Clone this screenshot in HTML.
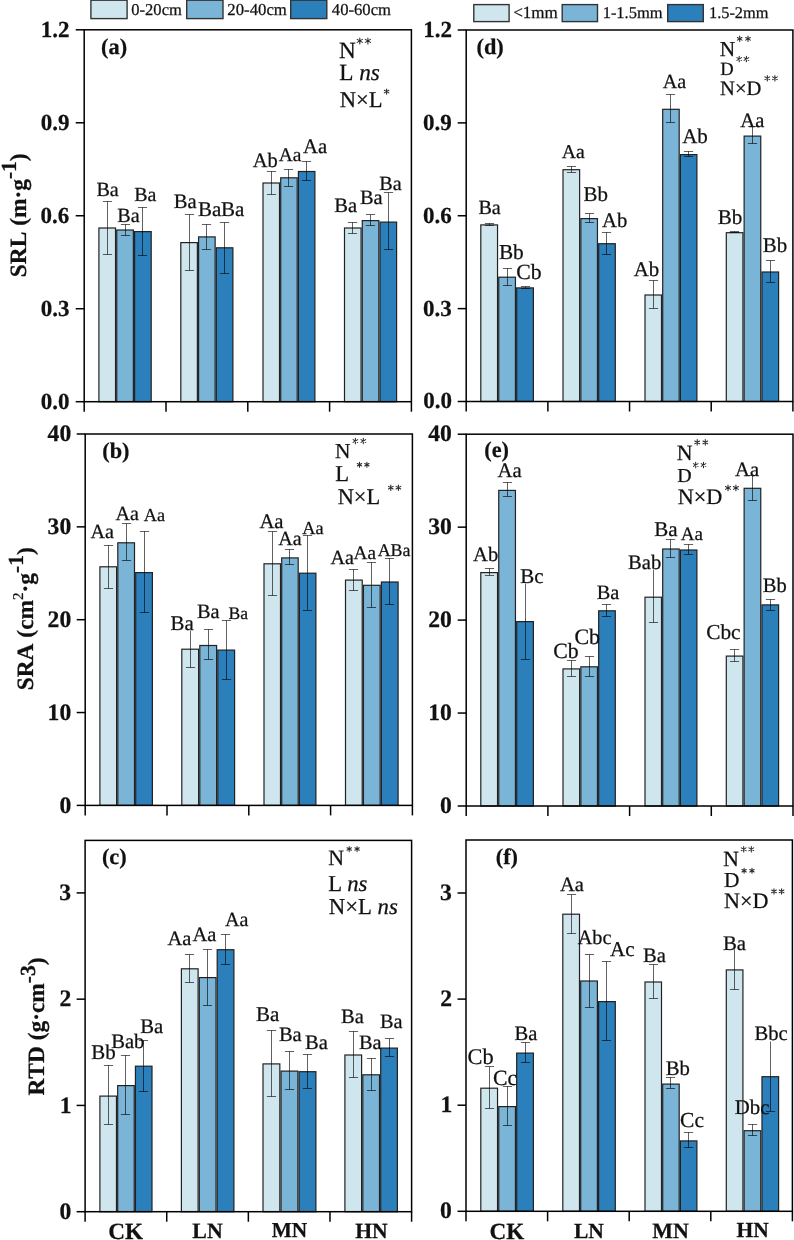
<!DOCTYPE html>
<html><head><meta charset="utf-8"><style>
html,body{margin:0;padding:0;background:#fff;width:794px;height:1240px;overflow:hidden;font-family:"Liberation Serif",serif}
svg text{font-kerning:none;fill:#111;stroke:#111;stroke-width:0.25px;text-rendering:geometricPrecision}
svg{will-change:transform}
</style></head><body>
<svg width="794" height="1240" viewBox="0 0 794 1240" font-family="Liberation Serif, serif" style="position:absolute;left:0;top:0">
<rect width="794" height="1240" fill="#fff"/>
<rect x="98.90" y="228.00" width="16.63" height="173.70" fill="#cfe6ee" stroke="#222222" stroke-width="1.2"/>
<rect x="116.73" y="230.00" width="16.63" height="171.70" fill="#7ab4d6" stroke="#222222" stroke-width="1.2"/>
<rect x="134.57" y="231.60" width="16.63" height="170.10" fill="#2b7fba" stroke="#222222" stroke-width="1.2"/>
<rect x="180.80" y="242.60" width="16.57" height="159.10" fill="#cfe6ee" stroke="#222222" stroke-width="1.2"/>
<rect x="198.57" y="236.90" width="16.57" height="164.80" fill="#7ab4d6" stroke="#222222" stroke-width="1.2"/>
<rect x="216.33" y="247.80" width="16.57" height="153.90" fill="#2b7fba" stroke="#222222" stroke-width="1.2"/>
<rect x="263.00" y="183.00" width="16.50" height="218.70" fill="#cfe6ee" stroke="#222222" stroke-width="1.2"/>
<rect x="280.70" y="177.80" width="16.50" height="223.90" fill="#7ab4d6" stroke="#222222" stroke-width="1.2"/>
<rect x="298.40" y="171.50" width="16.50" height="230.20" fill="#2b7fba" stroke="#222222" stroke-width="1.2"/>
<rect x="344.50" y="228.00" width="16.57" height="173.70" fill="#cfe6ee" stroke="#222222" stroke-width="1.2"/>
<rect x="362.27" y="220.60" width="16.57" height="181.10" fill="#7ab4d6" stroke="#222222" stroke-width="1.2"/>
<rect x="380.03" y="222.10" width="16.57" height="179.60" fill="#2b7fba" stroke="#222222" stroke-width="1.2"/>
<path d="M107.50,201.50V254.50M102.90,201.50H112.10M102.90,254.50H112.10" stroke="#000" stroke-opacity="0.62" stroke-width="1" fill="none"/>
<path d="M125.50,224.50V235.50M120.90,224.50H130.10M120.90,235.50H130.10" stroke="#000" stroke-opacity="0.62" stroke-width="1" fill="none"/>
<path d="M142.50,207.50V255.50M137.90,207.50H147.10M137.90,255.50H147.10" stroke="#000" stroke-opacity="0.62" stroke-width="1" fill="none"/>
<path d="M189.50,214.50V270.50M184.90,214.50H194.10M184.90,270.50H194.10" stroke="#000" stroke-opacity="0.62" stroke-width="1" fill="none"/>
<path d="M206.50,224.50V249.50M201.90,224.50H211.10M201.90,249.50H211.10" stroke="#000" stroke-opacity="0.62" stroke-width="1" fill="none"/>
<path d="M224.50,222.50V273.50M219.90,222.50H229.10M219.90,273.50H229.10" stroke="#000" stroke-opacity="0.62" stroke-width="1" fill="none"/>
<path d="M271.50,171.50V194.50M266.90,171.50H276.10M266.90,194.50H276.10" stroke="#000" stroke-opacity="0.62" stroke-width="1" fill="none"/>
<path d="M288.50,169.50V186.50M283.90,169.50H293.10M283.90,186.50H293.10" stroke="#000" stroke-opacity="0.62" stroke-width="1" fill="none"/>
<path d="M306.50,161.50V180.50M301.90,161.50H311.10M301.90,180.50H311.10" stroke="#000" stroke-opacity="0.62" stroke-width="1" fill="none"/>
<path d="M352.50,222.50V233.50M347.90,222.50H357.10M347.90,233.50H357.10" stroke="#000" stroke-opacity="0.62" stroke-width="1" fill="none"/>
<path d="M370.50,214.50V225.50M365.90,214.50H375.10M365.90,225.50H375.10" stroke="#000" stroke-opacity="0.62" stroke-width="1" fill="none"/>
<path d="M388.50,192.50V249.50M383.90,192.50H393.10M383.90,249.50H393.10" stroke="#000" stroke-opacity="0.62" stroke-width="1" fill="none"/>
<rect x="84.20" y="29.80" width="327.20" height="371.90" fill="none" stroke="#000" stroke-width="1.5"/>
<line x1="75.70" y1="401.70" x2="84.20" y2="401.70" stroke="#000" stroke-width="1.5"/>
<line x1="75.70" y1="308.73" x2="84.20" y2="308.73" stroke="#000" stroke-width="1.5"/>
<line x1="75.70" y1="215.75" x2="84.20" y2="215.75" stroke="#000" stroke-width="1.5"/>
<line x1="75.70" y1="122.78" x2="84.20" y2="122.78" stroke="#000" stroke-width="1.5"/>
<line x1="75.70" y1="29.80" x2="84.20" y2="29.80" stroke="#000" stroke-width="1.5"/>
<line x1="84.20" y1="401.70" x2="84.20" y2="411.70" stroke="#000" stroke-width="1.5"/>
<line x1="166.00" y1="401.70" x2="166.00" y2="411.70" stroke="#000" stroke-width="1.5"/>
<line x1="247.80" y1="401.70" x2="247.80" y2="411.70" stroke="#000" stroke-width="1.5"/>
<line x1="329.60" y1="401.70" x2="329.60" y2="411.70" stroke="#000" stroke-width="1.5"/>
<line x1="411.40" y1="401.70" x2="411.40" y2="411.70" stroke="#000" stroke-width="1.5"/>
<text x="40.73" y="408.61" font-size="23" font-weight="bold">0.0</text>
<text x="40.64" y="315.64" font-size="23" font-weight="bold">0.3</text>
<text x="40.52" y="222.66" font-size="23" font-weight="bold">0.6</text>
<text x="40.68" y="129.69" font-size="23" font-weight="bold">0.9</text>
<text x="40.84" y="36.71" font-size="23" font-weight="bold">1.2</text>
<text x="96.42" y="196.40" font-size="20.12" font-weight="normal" font-style="normal" >Ba</text>
<text x="117.32" y="222.10" font-size="20.12" font-weight="normal" font-style="normal" >Ba</text>
<text x="134.23" y="201.20" font-size="19.94" font-weight="normal" font-style="normal" >Ba</text>
<text x="173.71" y="208.10" font-size="20.59" font-weight="normal" font-style="normal" >Ba</text>
<text x="198.00" y="215.90" font-size="20.97" font-weight="normal" font-style="normal" >Ba</text>
<text x="221.00" y="215.90" font-size="20.97" font-weight="normal" font-style="normal" >Ba</text>
<text x="252.80" y="166.60" font-size="20.52" font-weight="normal" font-style="normal" >Ab</text>
<text x="278.81" y="161.20" font-size="19.43" font-weight="normal" font-style="normal" >Aa</text>
<text x="303.10" y="153.40" font-size="20.66" font-weight="normal" font-style="normal" >Aa</text>
<text x="334.31" y="211.70" font-size="20.59" font-weight="normal" font-style="normal" >Ba</text>
<text x="360.01" y="204.40" font-size="20.41" font-weight="normal" font-style="normal" >Ba</text>
<text x="379.32" y="189.70" font-size="20.12" font-weight="normal" font-style="normal" >Ba</text>
<text x="101.10" y="54.28" font-size="22.3" font-weight="bold">(a)</text>
<rect x="99.90" y="566.80" width="16.70" height="238.60" fill="#cfe6ee" stroke="#222222" stroke-width="1.2"/>
<rect x="117.80" y="542.80" width="16.70" height="262.60" fill="#7ab4d6" stroke="#222222" stroke-width="1.2"/>
<rect x="135.70" y="572.60" width="16.70" height="232.80" fill="#2b7fba" stroke="#222222" stroke-width="1.2"/>
<rect x="181.80" y="649.20" width="16.80" height="156.20" fill="#cfe6ee" stroke="#222222" stroke-width="1.2"/>
<rect x="199.80" y="645.50" width="16.80" height="159.90" fill="#7ab4d6" stroke="#222222" stroke-width="1.2"/>
<rect x="217.80" y="650.10" width="16.80" height="155.30" fill="#2b7fba" stroke="#222222" stroke-width="1.2"/>
<rect x="264.00" y="563.80" width="16.50" height="241.60" fill="#cfe6ee" stroke="#222222" stroke-width="1.2"/>
<rect x="281.70" y="557.90" width="16.50" height="247.50" fill="#7ab4d6" stroke="#222222" stroke-width="1.2"/>
<rect x="299.40" y="573.20" width="16.50" height="232.20" fill="#2b7fba" stroke="#222222" stroke-width="1.2"/>
<rect x="345.50" y="580.10" width="16.73" height="225.30" fill="#cfe6ee" stroke="#222222" stroke-width="1.2"/>
<rect x="363.43" y="585.30" width="16.73" height="220.10" fill="#7ab4d6" stroke="#222222" stroke-width="1.2"/>
<rect x="381.37" y="582.00" width="16.73" height="223.40" fill="#2b7fba" stroke="#222222" stroke-width="1.2"/>
<path d="M108.50,545.50V588.50M103.90,545.50H113.10M103.90,588.50H113.10" stroke="#000" stroke-opacity="0.62" stroke-width="1" fill="none"/>
<path d="M126.50,523.50V560.50M121.90,523.50H131.10M121.90,560.50H131.10" stroke="#000" stroke-opacity="0.62" stroke-width="1" fill="none"/>
<path d="M144.50,531.50V612.50M139.90,531.50H149.10M139.90,612.50H149.10" stroke="#000" stroke-opacity="0.62" stroke-width="1" fill="none"/>
<path d="M190.50,630.50V667.50M185.90,667.50H195.10" stroke="#000" stroke-opacity="0.62" stroke-width="1" fill="none"/>
<path d="M208.50,629.50V659.50M203.90,629.50H213.10M203.90,659.50H213.10" stroke="#000" stroke-opacity="0.62" stroke-width="1" fill="none"/>
<path d="M226.50,620.50V679.50M221.90,620.50H231.10M221.90,679.50H231.10" stroke="#000" stroke-opacity="0.62" stroke-width="1" fill="none"/>
<path d="M272.50,531.50V595.50M267.90,531.50H277.10M267.90,595.50H277.10" stroke="#000" stroke-opacity="0.62" stroke-width="1" fill="none"/>
<path d="M289.50,549.50V564.50M284.90,549.50H294.10M284.90,564.50H294.10" stroke="#000" stroke-opacity="0.62" stroke-width="1" fill="none"/>
<path d="M307.50,535.50V610.50M302.90,535.50H312.10M302.90,610.50H312.10" stroke="#000" stroke-opacity="0.62" stroke-width="1" fill="none"/>
<path d="M353.50,569.50V590.50M348.90,569.50H358.10M348.90,590.50H358.10" stroke="#000" stroke-opacity="0.62" stroke-width="1" fill="none"/>
<path d="M371.50,562.50V607.50M366.90,562.50H376.10M366.90,607.50H376.10" stroke="#000" stroke-opacity="0.62" stroke-width="1" fill="none"/>
<path d="M389.50,558.50V604.50M384.90,558.50H394.10M384.90,604.50H394.10" stroke="#000" stroke-opacity="0.62" stroke-width="1" fill="none"/>
<rect x="85.20" y="434.00" width="327.20" height="371.40" fill="none" stroke="#000" stroke-width="1.5"/>
<line x1="76.70" y1="805.40" x2="85.20" y2="805.40" stroke="#000" stroke-width="1.5"/>
<line x1="76.70" y1="712.55" x2="85.20" y2="712.55" stroke="#000" stroke-width="1.5"/>
<line x1="76.70" y1="619.70" x2="85.20" y2="619.70" stroke="#000" stroke-width="1.5"/>
<line x1="76.70" y1="526.85" x2="85.20" y2="526.85" stroke="#000" stroke-width="1.5"/>
<line x1="76.70" y1="434.00" x2="85.20" y2="434.00" stroke="#000" stroke-width="1.5"/>
<line x1="85.20" y1="805.40" x2="85.20" y2="815.40" stroke="#000" stroke-width="1.5"/>
<line x1="167.00" y1="805.40" x2="167.00" y2="815.40" stroke="#000" stroke-width="1.5"/>
<line x1="248.80" y1="805.40" x2="248.80" y2="815.40" stroke="#000" stroke-width="1.5"/>
<line x1="330.60" y1="805.40" x2="330.60" y2="815.40" stroke="#000" stroke-width="1.5"/>
<line x1="412.40" y1="805.40" x2="412.40" y2="815.40" stroke="#000" stroke-width="1.5"/>
<text x="59.40" y="812.51" font-size="23.6" font-weight="bold">0</text>
<text x="47.60" y="719.66" font-size="23.6" font-weight="bold">10</text>
<text x="47.60" y="626.81" font-size="23.6" font-weight="bold">20</text>
<text x="47.60" y="533.96" font-size="23.6" font-weight="bold">30</text>
<text x="47.60" y="441.11" font-size="23.6" font-weight="bold">40</text>
<text x="90.50" y="537.90" font-size="20.13" font-weight="normal" font-style="normal" >Aa</text>
<text x="115.60" y="519.70" font-size="20.13" font-weight="normal" font-style="normal" >Aa</text>
<text x="143.82" y="521.40" font-size="18.29" font-weight="normal" font-style="normal" >Aa</text>
<text x="170.50" y="630.40" font-size="20.87" font-weight="normal" font-style="normal" >Ba</text>
<text x="196.91" y="617.80" font-size="20.31" font-weight="normal" font-style="normal" >Ba</text>
<text x="228.49" y="618.80" font-size="17.60" font-weight="normal" font-style="normal" >Ba</text>
<text x="259.40" y="527.60" font-size="20.74" font-weight="normal" font-style="normal" >Aa</text>
<text x="278.30" y="545.40" font-size="20.04" font-weight="normal" font-style="normal" >Aa</text>
<text x="302.32" y="534.30" font-size="18.29" font-weight="normal" font-style="normal" >Aa</text>
<text x="330.50" y="563.60" font-size="20.13" font-weight="normal" font-style="normal" >Aa</text>
<text x="353.51" y="559.00" font-size="19.25" font-weight="normal" font-style="normal" >Aa</text>
<text x="377.63" y="555.90" font-size="17.90" font-weight="normal" font-style="normal" >ABa</text>
<text x="102.27" y="458.28" font-size="22.3" font-weight="bold">(b)</text>
<rect x="99.90" y="1096.10" width="16.57" height="115.60" fill="#cfe6ee" stroke="#222222" stroke-width="1.2"/>
<rect x="117.67" y="1085.60" width="16.57" height="126.10" fill="#7ab4d6" stroke="#222222" stroke-width="1.2"/>
<rect x="135.43" y="1066.20" width="16.57" height="145.50" fill="#2b7fba" stroke="#222222" stroke-width="1.2"/>
<rect x="181.40" y="968.80" width="16.70" height="242.90" fill="#cfe6ee" stroke="#222222" stroke-width="1.2"/>
<rect x="199.30" y="977.60" width="16.70" height="234.10" fill="#7ab4d6" stroke="#222222" stroke-width="1.2"/>
<rect x="217.20" y="949.70" width="16.70" height="262.00" fill="#2b7fba" stroke="#222222" stroke-width="1.2"/>
<rect x="263.00" y="1063.90" width="16.83" height="147.80" fill="#cfe6ee" stroke="#222222" stroke-width="1.2"/>
<rect x="281.03" y="1071.10" width="16.83" height="140.60" fill="#7ab4d6" stroke="#222222" stroke-width="1.2"/>
<rect x="299.07" y="1071.70" width="16.83" height="140.00" fill="#2b7fba" stroke="#222222" stroke-width="1.2"/>
<rect x="344.90" y="1055.00" width="16.70" height="156.70" fill="#cfe6ee" stroke="#222222" stroke-width="1.2"/>
<rect x="362.80" y="1074.80" width="16.70" height="136.90" fill="#7ab4d6" stroke="#222222" stroke-width="1.2"/>
<rect x="380.70" y="1048.10" width="16.70" height="163.60" fill="#2b7fba" stroke="#222222" stroke-width="1.2"/>
<path d="M108.50,1065.50V1124.50M103.90,1065.50H113.10M103.90,1124.50H113.10" stroke="#000" stroke-opacity="0.62" stroke-width="1" fill="none"/>
<path d="M125.50,1055.50V1114.50M120.90,1055.50H130.10M120.90,1114.50H130.10" stroke="#000" stroke-opacity="0.62" stroke-width="1" fill="none"/>
<path d="M143.50,1040.50V1091.50M138.90,1040.50H148.10M138.90,1091.50H148.10" stroke="#000" stroke-opacity="0.62" stroke-width="1" fill="none"/>
<path d="M189.50,954.50V982.50M184.90,954.50H194.10M184.90,982.50H194.10" stroke="#000" stroke-opacity="0.62" stroke-width="1" fill="none"/>
<path d="M207.50,949.50V1005.50M202.90,949.50H212.10M202.90,1005.50H212.10" stroke="#000" stroke-opacity="0.62" stroke-width="1" fill="none"/>
<path d="M225.50,934.50V964.50M220.90,934.50H230.10M220.90,964.50H230.10" stroke="#000" stroke-opacity="0.62" stroke-width="1" fill="none"/>
<path d="M271.50,1030.50V1096.50M266.90,1030.50H276.10M266.90,1096.50H276.10" stroke="#000" stroke-opacity="0.62" stroke-width="1" fill="none"/>
<path d="M289.50,1051.50V1089.50M284.90,1051.50H294.10M284.90,1089.50H294.10" stroke="#000" stroke-opacity="0.62" stroke-width="1" fill="none"/>
<path d="M307.50,1054.50V1088.50M302.90,1054.50H312.10M302.90,1088.50H312.10" stroke="#000" stroke-opacity="0.62" stroke-width="1" fill="none"/>
<path d="M353.50,1031.50V1077.50M348.90,1031.50H358.10M348.90,1077.50H358.10" stroke="#000" stroke-opacity="0.62" stroke-width="1" fill="none"/>
<path d="M371.50,1058.50V1090.50M366.90,1058.50H376.10M366.90,1090.50H376.10" stroke="#000" stroke-opacity="0.62" stroke-width="1" fill="none"/>
<path d="M389.50,1038.50V1056.50M384.90,1038.50H394.10M384.90,1056.50H394.10" stroke="#000" stroke-opacity="0.62" stroke-width="1" fill="none"/>
<rect x="85.10" y="840.40" width="326.50" height="371.30" fill="none" stroke="#000" stroke-width="1.5"/>
<line x1="76.60" y1="1211.70" x2="85.10" y2="1211.70" stroke="#000" stroke-width="1.5"/>
<line x1="76.60" y1="1105.43" x2="85.10" y2="1105.43" stroke="#000" stroke-width="1.5"/>
<line x1="76.60" y1="999.17" x2="85.10" y2="999.17" stroke="#000" stroke-width="1.5"/>
<line x1="76.60" y1="892.90" x2="85.10" y2="892.90" stroke="#000" stroke-width="1.5"/>
<line x1="85.10" y1="1211.70" x2="85.10" y2="1221.70" stroke="#000" stroke-width="1.5"/>
<line x1="166.72" y1="1211.70" x2="166.72" y2="1221.70" stroke="#000" stroke-width="1.5"/>
<line x1="248.35" y1="1211.70" x2="248.35" y2="1221.70" stroke="#000" stroke-width="1.5"/>
<line x1="329.98" y1="1211.70" x2="329.98" y2="1221.70" stroke="#000" stroke-width="1.5"/>
<line x1="411.60" y1="1211.70" x2="411.60" y2="1221.70" stroke="#000" stroke-width="1.5"/>
<text x="59.40" y="1218.81" font-size="23.6" font-weight="bold">0</text>
<text x="59.72" y="1112.54" font-size="23.6" font-weight="bold">1</text>
<text x="59.51" y="1006.28" font-size="23.6" font-weight="bold">2</text>
<text x="59.31" y="900.01" font-size="23.6" font-weight="bold">3</text>
<text x="91.30" y="1059.30" font-size="20.91" font-weight="normal" font-style="normal" >Bb</text>
<text x="111.21" y="1047.80" font-size="20.60" font-weight="normal" font-style="normal" >Bab</text>
<text x="140.30" y="1032.80" font-size="20.69" font-weight="normal" font-style="normal" >Ba</text>
<text x="167.40" y="945.20" font-size="20.48" font-weight="normal" font-style="normal" >Aa</text>
<text x="192.50" y="940.80" font-size="20.48" font-weight="normal" font-style="normal" >Aa</text>
<text x="224.90" y="925.70" font-size="20.13" font-weight="normal" font-style="normal" >Aa</text>
<text x="255.90" y="1020.90" font-size="20.97" font-weight="normal" font-style="normal" >Ba</text>
<text x="278.91" y="1040.80" font-size="20.50" font-weight="normal" font-style="normal" >Ba</text>
<text x="305.01" y="1049.10" font-size="20.59" font-weight="normal" font-style="normal" >Ba</text>
<text x="341.01" y="1022.60" font-size="20.50" font-weight="normal" font-style="normal" >Ba</text>
<text x="359.01" y="1048.50" font-size="20.31" font-weight="normal" font-style="normal" >Ba</text>
<text x="379.91" y="1028.20" font-size="20.31" font-weight="normal" font-style="normal" >Ba</text>
<text x="101.88" y="864.28" font-size="22.3" font-weight="bold">(c)</text>
<rect x="480.80" y="224.90" width="16.73" height="176.60" fill="#cfe6ee" stroke="#222222" stroke-width="1.2"/>
<rect x="498.73" y="277.20" width="16.73" height="124.30" fill="#7ab4d6" stroke="#222222" stroke-width="1.2"/>
<rect x="516.67" y="287.90" width="16.73" height="113.60" fill="#2b7fba" stroke="#222222" stroke-width="1.2"/>
<rect x="563.00" y="169.70" width="16.63" height="231.80" fill="#cfe6ee" stroke="#222222" stroke-width="1.2"/>
<rect x="580.83" y="218.60" width="16.63" height="182.90" fill="#7ab4d6" stroke="#222222" stroke-width="1.2"/>
<rect x="598.67" y="243.70" width="16.63" height="157.80" fill="#2b7fba" stroke="#222222" stroke-width="1.2"/>
<rect x="645.00" y="295.00" width="16.50" height="106.50" fill="#cfe6ee" stroke="#222222" stroke-width="1.2"/>
<rect x="662.70" y="109.30" width="16.50" height="292.20" fill="#7ab4d6" stroke="#222222" stroke-width="1.2"/>
<rect x="680.40" y="154.60" width="16.50" height="246.90" fill="#2b7fba" stroke="#222222" stroke-width="1.2"/>
<rect x="726.30" y="232.70" width="16.63" height="168.80" fill="#cfe6ee" stroke="#222222" stroke-width="1.2"/>
<rect x="744.13" y="136.10" width="16.63" height="265.40" fill="#7ab4d6" stroke="#222222" stroke-width="1.2"/>
<rect x="761.97" y="272.00" width="16.63" height="129.50" fill="#2b7fba" stroke="#222222" stroke-width="1.2"/>
<path d="M489.50,223.50V225.50M484.90,223.50H494.10M484.90,225.50H494.10" stroke="#000" stroke-opacity="0.62" stroke-width="1" fill="none"/>
<path d="M507.50,268.50V285.50M502.90,268.50H512.10M502.90,285.50H512.10" stroke="#000" stroke-opacity="0.62" stroke-width="1" fill="none"/>
<path d="M525.50,286.50V288.50M520.90,286.50H530.10M520.90,288.50H530.10" stroke="#000" stroke-opacity="0.62" stroke-width="1" fill="none"/>
<path d="M571.50,166.50V172.50M566.90,166.50H576.10M566.90,172.50H576.10" stroke="#000" stroke-opacity="0.62" stroke-width="1" fill="none"/>
<path d="M589.50,213.50V222.50M584.90,213.50H594.10M584.90,222.50H594.10" stroke="#000" stroke-opacity="0.62" stroke-width="1" fill="none"/>
<path d="M606.50,232.50V254.50M601.90,232.50H611.10M601.90,254.50H611.10" stroke="#000" stroke-opacity="0.62" stroke-width="1" fill="none"/>
<path d="M653.50,280.50V308.50M648.90,280.50H658.10M648.90,308.50H658.10" stroke="#000" stroke-opacity="0.62" stroke-width="1" fill="none"/>
<path d="M670.50,94.50V122.50M665.90,94.50H675.10M665.90,122.50H675.10" stroke="#000" stroke-opacity="0.62" stroke-width="1" fill="none"/>
<path d="M688.50,151.50V156.50M683.90,151.50H693.10M683.90,156.50H693.10" stroke="#000" stroke-opacity="0.62" stroke-width="1" fill="none"/>
<path d="M734.50,231.50V232.50M729.90,231.50H739.10M729.90,232.50H739.10" stroke="#000" stroke-opacity="0.62" stroke-width="1" fill="none"/>
<path d="M752.50,126.50V143.50M747.90,126.50H757.10M747.90,143.50H757.10" stroke="#000" stroke-opacity="0.62" stroke-width="1" fill="none"/>
<path d="M770.50,260.50V282.50M765.90,260.50H775.10M765.90,282.50H775.10" stroke="#000" stroke-opacity="0.62" stroke-width="1" fill="none"/>
<rect x="466.20" y="30.00" width="326.70" height="371.50" fill="none" stroke="#000" stroke-width="1.5"/>
<line x1="457.70" y1="401.50" x2="466.20" y2="401.50" stroke="#000" stroke-width="1.5"/>
<line x1="457.70" y1="308.62" x2="466.20" y2="308.62" stroke="#000" stroke-width="1.5"/>
<line x1="457.70" y1="215.75" x2="466.20" y2="215.75" stroke="#000" stroke-width="1.5"/>
<line x1="457.70" y1="122.88" x2="466.20" y2="122.88" stroke="#000" stroke-width="1.5"/>
<line x1="457.70" y1="30.00" x2="466.20" y2="30.00" stroke="#000" stroke-width="1.5"/>
<line x1="466.20" y1="401.50" x2="466.20" y2="411.50" stroke="#000" stroke-width="1.5"/>
<line x1="547.88" y1="401.50" x2="547.88" y2="411.50" stroke="#000" stroke-width="1.5"/>
<line x1="629.55" y1="401.50" x2="629.55" y2="411.50" stroke="#000" stroke-width="1.5"/>
<line x1="711.22" y1="401.50" x2="711.22" y2="411.50" stroke="#000" stroke-width="1.5"/>
<line x1="792.90" y1="401.50" x2="792.90" y2="411.50" stroke="#000" stroke-width="1.5"/>
<text x="423.13" y="408.41" font-size="23" font-weight="bold">0.0</text>
<text x="423.04" y="315.54" font-size="23" font-weight="bold">0.3</text>
<text x="422.92" y="222.66" font-size="23" font-weight="bold">0.6</text>
<text x="423.08" y="129.79" font-size="23" font-weight="bold">0.9</text>
<text x="423.24" y="36.91" font-size="23" font-weight="bold">1.2</text>
<text x="478.42" y="213.50" font-size="20.12" font-weight="normal" font-style="normal" >Ba</text>
<text x="498.89" y="259.00" font-size="21.27" font-weight="normal" font-style="normal" >Bb</text>
<text x="516.31" y="278.70" font-size="21.69" font-weight="normal" font-style="normal" >Cb</text>
<text x="561.81" y="157.80" font-size="19.69" font-weight="normal" font-style="normal" >Aa</text>
<text x="583.50" y="200.50" font-size="20.91" font-weight="normal" font-style="normal" >Bb</text>
<text x="602.10" y="227.00" font-size="20.69" font-weight="normal" font-style="normal" >Ab</text>
<text x="633.70" y="275.60" font-size="20.86" font-weight="normal" font-style="normal" >Ab</text>
<text x="662.70" y="88.20" font-size="20.13" font-weight="normal" font-style="normal" >Aa</text>
<text x="682.19" y="142.90" font-size="21.03" font-weight="normal" font-style="normal" >Ab</text>
<text x="717.79" y="223.80" font-size="21.09" font-weight="normal" font-style="normal" >Bb</text>
<text x="740.30" y="126.60" font-size="20.57" font-weight="normal" font-style="normal" >Aa</text>
<text x="762.70" y="252.00" font-size="20.91" font-weight="normal" font-style="normal" >Bb</text>
<text x="476.52" y="54.28" font-size="22.3" font-weight="bold">(d)</text>
<rect x="480.80" y="572.60" width="16.73" height="233.40" fill="#cfe6ee" stroke="#222222" stroke-width="1.2"/>
<rect x="498.73" y="490.40" width="16.73" height="315.60" fill="#7ab4d6" stroke="#222222" stroke-width="1.2"/>
<rect x="516.67" y="621.60" width="16.73" height="184.40" fill="#2b7fba" stroke="#222222" stroke-width="1.2"/>
<rect x="563.00" y="668.90" width="16.63" height="137.10" fill="#cfe6ee" stroke="#222222" stroke-width="1.2"/>
<rect x="580.83" y="666.80" width="16.63" height="139.20" fill="#7ab4d6" stroke="#222222" stroke-width="1.2"/>
<rect x="598.67" y="610.80" width="16.63" height="195.20" fill="#2b7fba" stroke="#222222" stroke-width="1.2"/>
<rect x="645.00" y="597.20" width="16.50" height="208.80" fill="#cfe6ee" stroke="#222222" stroke-width="1.2"/>
<rect x="662.70" y="549.00" width="16.50" height="257.00" fill="#7ab4d6" stroke="#222222" stroke-width="1.2"/>
<rect x="680.40" y="550.00" width="16.50" height="256.00" fill="#2b7fba" stroke="#222222" stroke-width="1.2"/>
<rect x="726.30" y="656.10" width="16.63" height="149.90" fill="#cfe6ee" stroke="#222222" stroke-width="1.2"/>
<rect x="744.13" y="488.30" width="16.63" height="317.70" fill="#7ab4d6" stroke="#222222" stroke-width="1.2"/>
<rect x="761.97" y="604.90" width="16.63" height="201.10" fill="#2b7fba" stroke="#222222" stroke-width="1.2"/>
<path d="M489.50,568.50V575.50M484.90,568.50H494.10M484.90,575.50H494.10" stroke="#000" stroke-opacity="0.62" stroke-width="1" fill="none"/>
<path d="M507.50,482.50V496.50M502.90,482.50H512.10M502.90,496.50H512.10" stroke="#000" stroke-opacity="0.62" stroke-width="1" fill="none"/>
<path d="M525.50,583.50V659.50M520.90,659.50H530.10" stroke="#000" stroke-opacity="0.62" stroke-width="1" fill="none"/>
<path d="M571.50,660.50V676.50M566.90,660.50H576.10M566.90,676.50H576.10" stroke="#000" stroke-opacity="0.62" stroke-width="1" fill="none"/>
<path d="M589.50,656.50V676.50M584.90,656.50H594.10M584.90,676.50H594.10" stroke="#000" stroke-opacity="0.62" stroke-width="1" fill="none"/>
<path d="M606.50,604.50V616.50M601.90,604.50H611.10M601.90,616.50H611.10" stroke="#000" stroke-opacity="0.62" stroke-width="1" fill="none"/>
<path d="M653.50,569.50V622.50M648.90,622.50H658.10" stroke="#000" stroke-opacity="0.62" stroke-width="1" fill="none"/>
<path d="M670.50,539.50V557.50M665.90,539.50H675.10M665.90,557.50H675.10" stroke="#000" stroke-opacity="0.62" stroke-width="1" fill="none"/>
<path d="M688.50,544.50V554.50M683.90,544.50H693.10M683.90,554.50H693.10" stroke="#000" stroke-opacity="0.62" stroke-width="1" fill="none"/>
<path d="M734.50,649.50V661.50M729.90,649.50H739.10M729.90,661.50H739.10" stroke="#000" stroke-opacity="0.62" stroke-width="1" fill="none"/>
<path d="M752.50,475.50V500.50M747.90,475.50H757.10M747.90,500.50H757.10" stroke="#000" stroke-opacity="0.62" stroke-width="1" fill="none"/>
<path d="M770.50,599.50V610.50M765.90,599.50H775.10M765.90,610.50H775.10" stroke="#000" stroke-opacity="0.62" stroke-width="1" fill="none"/>
<rect x="466.20" y="434.20" width="326.80" height="371.80" fill="none" stroke="#000" stroke-width="1.5"/>
<line x1="457.70" y1="806.00" x2="466.20" y2="806.00" stroke="#000" stroke-width="1.5"/>
<line x1="457.70" y1="713.05" x2="466.20" y2="713.05" stroke="#000" stroke-width="1.5"/>
<line x1="457.70" y1="620.10" x2="466.20" y2="620.10" stroke="#000" stroke-width="1.5"/>
<line x1="457.70" y1="527.15" x2="466.20" y2="527.15" stroke="#000" stroke-width="1.5"/>
<line x1="457.70" y1="434.20" x2="466.20" y2="434.20" stroke="#000" stroke-width="1.5"/>
<line x1="466.20" y1="806.00" x2="466.20" y2="816.00" stroke="#000" stroke-width="1.5"/>
<line x1="547.90" y1="806.00" x2="547.90" y2="816.00" stroke="#000" stroke-width="1.5"/>
<line x1="629.60" y1="806.00" x2="629.60" y2="816.00" stroke="#000" stroke-width="1.5"/>
<line x1="711.30" y1="806.00" x2="711.30" y2="816.00" stroke="#000" stroke-width="1.5"/>
<line x1="793.00" y1="806.00" x2="793.00" y2="816.00" stroke="#000" stroke-width="1.5"/>
<text x="440.10" y="813.11" font-size="23.6" font-weight="bold">0</text>
<text x="428.30" y="720.16" font-size="23.6" font-weight="bold">10</text>
<text x="428.30" y="627.21" font-size="23.6" font-weight="bold">20</text>
<text x="428.30" y="534.26" font-size="23.6" font-weight="bold">30</text>
<text x="428.30" y="441.31" font-size="23.6" font-weight="bold">40</text>
<text x="473.10" y="561.10" font-size="20.52" font-weight="normal" font-style="normal" >Ab</text>
<text x="497.60" y="476.90" font-size="20.66" font-weight="normal" font-style="normal" >Aa</text>
<text x="520.19" y="582.60" font-size="21.02" font-weight="normal" font-style="normal" >Bc</text>
<text x="553.31" y="657.80" font-size="21.79" font-weight="normal" font-style="normal" >Cb</text>
<text x="574.40" y="644.00" font-size="21.97" font-weight="normal" font-style="normal" >Cb</text>
<text x="596.71" y="599.30" font-size="20.31" font-weight="normal" font-style="normal" >Ba</text>
<text x="628.11" y="568.90" font-size="20.60" font-weight="normal" font-style="normal" >Bab</text>
<text x="654.20" y="536.40" font-size="20.97" font-weight="normal" font-style="normal" >Ba</text>
<text x="680.71" y="539.60" font-size="19.08" font-weight="normal" font-style="normal" >Aa</text>
<text x="706.23" y="639.00" font-size="21.31" font-weight="normal" font-style="normal" >Cbc</text>
<text x="735.10" y="475.80" font-size="20.48" font-weight="normal" font-style="normal" >Aa</text>
<text x="762.71" y="592.40" font-size="20.54" font-weight="normal" font-style="normal" >Bb</text>
<text x="484.23" y="457.48" font-size="22.3" font-weight="bold">(e)</text>
<rect x="480.80" y="1088.20" width="16.73" height="123.10" fill="#cfe6ee" stroke="#222222" stroke-width="1.2"/>
<rect x="498.73" y="1106.60" width="16.73" height="104.70" fill="#7ab4d6" stroke="#222222" stroke-width="1.2"/>
<rect x="516.67" y="1053.10" width="16.73" height="158.20" fill="#2b7fba" stroke="#222222" stroke-width="1.2"/>
<rect x="562.80" y="914.20" width="16.70" height="297.10" fill="#cfe6ee" stroke="#222222" stroke-width="1.2"/>
<rect x="580.70" y="981.00" width="16.70" height="230.30" fill="#7ab4d6" stroke="#222222" stroke-width="1.2"/>
<rect x="598.60" y="1001.60" width="16.70" height="209.70" fill="#2b7fba" stroke="#222222" stroke-width="1.2"/>
<rect x="645.00" y="982.00" width="16.50" height="229.30" fill="#cfe6ee" stroke="#222222" stroke-width="1.2"/>
<rect x="662.70" y="1084.10" width="16.50" height="127.20" fill="#7ab4d6" stroke="#222222" stroke-width="1.2"/>
<rect x="680.40" y="1140.90" width="16.50" height="70.40" fill="#2b7fba" stroke="#222222" stroke-width="1.2"/>
<rect x="726.30" y="969.90" width="16.63" height="241.40" fill="#cfe6ee" stroke="#222222" stroke-width="1.2"/>
<rect x="744.13" y="1130.70" width="16.63" height="80.60" fill="#7ab4d6" stroke="#222222" stroke-width="1.2"/>
<rect x="761.97" y="1076.70" width="16.63" height="134.60" fill="#2b7fba" stroke="#222222" stroke-width="1.2"/>
<path d="M489.50,1066.50V1108.50M484.90,1066.50H494.10M484.90,1108.50H494.10" stroke="#000" stroke-opacity="0.62" stroke-width="1" fill="none"/>
<path d="M507.50,1086.50V1125.50M502.90,1086.50H512.10M502.90,1125.50H512.10" stroke="#000" stroke-opacity="0.62" stroke-width="1" fill="none"/>
<path d="M525.50,1042.50V1062.50M520.90,1042.50H530.10M520.90,1062.50H530.10" stroke="#000" stroke-opacity="0.62" stroke-width="1" fill="none"/>
<path d="M571.50,894.50V933.50M566.90,894.50H576.10M566.90,933.50H576.10" stroke="#000" stroke-opacity="0.62" stroke-width="1" fill="none"/>
<path d="M589.50,954.50V1007.50M584.90,954.50H594.10M584.90,1007.50H594.10" stroke="#000" stroke-opacity="0.62" stroke-width="1" fill="none"/>
<path d="M606.50,961.50V1040.50M601.90,961.50H611.10M601.90,1040.50H611.10" stroke="#000" stroke-opacity="0.62" stroke-width="1" fill="none"/>
<path d="M653.50,964.50V998.50M648.90,964.50H658.10M648.90,998.50H658.10" stroke="#000" stroke-opacity="0.62" stroke-width="1" fill="none"/>
<path d="M670.50,1077.50V1088.50M665.90,1077.50H675.10M665.90,1088.50H675.10" stroke="#000" stroke-opacity="0.62" stroke-width="1" fill="none"/>
<path d="M688.50,1132.50V1147.50M683.90,1132.50H693.10M683.90,1147.50H693.10" stroke="#000" stroke-opacity="0.62" stroke-width="1" fill="none"/>
<path d="M734.50,949.50V989.50M729.90,989.50H739.10" stroke="#000" stroke-opacity="0.62" stroke-width="1" fill="none"/>
<path d="M752.50,1124.50V1135.50M747.90,1124.50H757.10M747.90,1135.50H757.10" stroke="#000" stroke-opacity="0.62" stroke-width="1" fill="none"/>
<path d="M770.50,1041.50V1111.50M765.90,1111.50H775.10" stroke="#000" stroke-opacity="0.62" stroke-width="1" fill="none"/>
<rect x="466.00" y="840.00" width="326.40" height="371.30" fill="none" stroke="#000" stroke-width="1.5"/>
<line x1="457.50" y1="1211.30" x2="466.00" y2="1211.30" stroke="#000" stroke-width="1.5"/>
<line x1="457.50" y1="1105.20" x2="466.00" y2="1105.20" stroke="#000" stroke-width="1.5"/>
<line x1="457.50" y1="999.10" x2="466.00" y2="999.10" stroke="#000" stroke-width="1.5"/>
<line x1="457.50" y1="893.00" x2="466.00" y2="893.00" stroke="#000" stroke-width="1.5"/>
<line x1="466.00" y1="1211.30" x2="466.00" y2="1221.30" stroke="#000" stroke-width="1.5"/>
<line x1="547.60" y1="1211.30" x2="547.60" y2="1221.30" stroke="#000" stroke-width="1.5"/>
<line x1="629.20" y1="1211.30" x2="629.20" y2="1221.30" stroke="#000" stroke-width="1.5"/>
<line x1="710.80" y1="1211.30" x2="710.80" y2="1221.30" stroke="#000" stroke-width="1.5"/>
<line x1="792.40" y1="1211.30" x2="792.40" y2="1221.30" stroke="#000" stroke-width="1.5"/>
<text x="440.10" y="1218.41" font-size="23.6" font-weight="bold">0</text>
<text x="440.42" y="1112.31" font-size="23.6" font-weight="bold">1</text>
<text x="440.21" y="1006.21" font-size="23.6" font-weight="bold">2</text>
<text x="440.01" y="900.11" font-size="23.6" font-weight="bold">3</text>
<text x="467.58" y="1064.00" font-size="22.34" font-weight="normal" font-style="normal" >Cb</text>
<text x="492.91" y="1085.00" font-size="21.75" font-weight="normal" font-style="normal" >Cc</text>
<text x="514.51" y="1039.90" font-size="20.59" font-weight="normal" font-style="normal" >Ba</text>
<text x="559.90" y="890.80" font-size="20.48" font-weight="normal" font-style="normal" >Aa</text>
<text x="577.70" y="943.90" font-size="20.30" font-weight="normal" font-style="normal" >Abc</text>
<text x="610.09" y="955.70" font-size="21.06" font-weight="normal" font-style="normal" >Ac</text>
<text x="643.11" y="962.00" font-size="20.59" font-weight="normal" font-style="normal" >Ba</text>
<text x="665.70" y="1074.50" font-size="20.73" font-weight="normal" font-style="normal" >Bb</text>
<text x="680.12" y="1127.40" font-size="21.46" font-weight="normal" font-style="normal" >Cc</text>
<text x="723.00" y="949.70" font-size="20.78" font-weight="normal" font-style="normal" >Ba</text>
<text x="734.70" y="1113.80" font-size="20.85" font-weight="normal" font-style="normal" >Dbc</text>
<text x="754.41" y="1040.00" font-size="20.63" font-weight="normal" font-style="normal" >Bbc</text>
<text x="495.76" y="864.28" font-size="22.3" font-weight="bold">(f)</text>
<text x="338.93" y="57.60" font-size="23.24" font-style="normal">N</text>
<path d="M359.80,37.90L359.80,43.90M357.20,39.40L362.40,42.40M357.20,42.40L362.40,39.40" stroke="#2a2a2a" stroke-width="1.05" stroke-linecap="round" fill="none"/>
<path d="M367.90,37.90L367.90,43.90M365.30,39.40L370.50,42.40M365.30,42.40L370.50,39.40" stroke="#2a2a2a" stroke-width="1.05" stroke-linecap="round" fill="none"/>
<text x="339.23" y="79.70" font-size="23.29" font-style="normal">L</text>
<text x="359.17" y="79.70" font-size="23.29" font-style="italic">ns</text>
<text x="339.65" y="107.20" font-size="22.59" font-style="normal">N×L</text>
<path d="M386.60,88.90L386.60,94.20M384.31,90.23L388.89,92.88M384.31,92.88L388.89,90.23" stroke="#2a2a2a" stroke-width="1.05" stroke-linecap="round" fill="none"/>
<text x="334.98" y="457.80" font-size="21.36" font-style="normal">N</text>
<path d="M355.40,438.30L355.40,443.70M353.06,439.65L357.74,442.35M353.06,442.35L357.74,439.65" stroke="#2a2a2a" stroke-width="1.05" stroke-linecap="round" fill="none"/>
<path d="M363.30,438.30L363.30,443.70M360.96,439.65L365.64,442.35M360.96,442.35L365.64,439.65" stroke="#2a2a2a" stroke-width="1.05" stroke-linecap="round" fill="none"/>
<text x="335.35" y="480.90" font-size="22.64" font-style="normal">L</text>
<path d="M359.50,462.30L359.50,467.30M357.33,463.55L361.67,466.05M357.33,466.05L361.67,463.55" stroke="#2a2a2a" stroke-width="1.05" stroke-linecap="round" fill="none"/>
<path d="M366.90,462.30L366.90,467.30M364.73,463.55L369.07,466.05M364.73,466.05L369.07,463.55" stroke="#2a2a2a" stroke-width="1.05" stroke-linecap="round" fill="none"/>
<text x="337.65" y="503.60" font-size="22.40" font-style="normal">N×L</text>
<path d="M390.80,485.00L390.80,490.40M388.46,486.35L393.14,489.05M388.46,489.05L393.14,486.35" stroke="#2a2a2a" stroke-width="1.05" stroke-linecap="round" fill="none"/>
<path d="M398.40,485.00L398.40,490.40M396.06,486.35L400.74,489.05M396.06,489.05L400.74,486.35" stroke="#2a2a2a" stroke-width="1.05" stroke-linecap="round" fill="none"/>
<text x="328.27" y="865.30" font-size="21.96" font-style="normal">N</text>
<path d="M349.20,846.50L349.20,851.60M346.99,847.77L351.41,850.32M346.99,850.32L351.41,847.77" stroke="#2a2a2a" stroke-width="1.05" stroke-linecap="round" fill="none"/>
<path d="M357.10,846.50L357.10,851.60M354.89,847.77L359.31,850.32M354.89,850.32L359.31,847.77" stroke="#2a2a2a" stroke-width="1.05" stroke-linecap="round" fill="none"/>
<text x="328.25" y="890.50" font-size="22.68" font-style="normal">L</text>
<text x="347.29" y="890.50" font-size="22.68" font-style="italic">ns</text>
<text x="328.74" y="914.10" font-size="22.80" font-style="normal">N×L</text>
<text x="377.49" y="914.10" font-size="22.80" font-style="italic">ns</text>
<text x="719.68" y="55.60" font-size="21.36" font-style="normal">N</text>
<path d="M739.70,36.10L739.70,41.50M737.36,37.45L742.04,40.15M737.36,40.15L742.04,37.45" stroke="#2a2a2a" stroke-width="1.05" stroke-linecap="round" fill="none"/>
<path d="M748.00,36.10L748.00,41.50M745.66,37.45L750.34,40.15M745.66,40.15L750.34,37.45" stroke="#2a2a2a" stroke-width="1.05" stroke-linecap="round" fill="none"/>
<text x="720.16" y="75.10" font-size="18.65" font-style="normal">D</text>
<path d="M739.20,56.30L739.20,61.70M736.86,57.65L741.54,60.35M736.86,60.35L741.54,57.65" stroke="#2a2a2a" stroke-width="1.05" stroke-linecap="round" fill="none"/>
<path d="M746.40,56.30L746.40,61.70M744.06,57.65L748.74,60.35M744.06,60.35L748.74,57.65" stroke="#2a2a2a" stroke-width="1.05" stroke-linecap="round" fill="none"/>
<text x="720.11" y="94.60" font-size="20.62" font-style="normal">N×D</text>
<path d="M767.30,75.50L767.30,81.00M764.92,76.88L769.68,79.62M764.92,79.62L769.68,76.88" stroke="#2a2a2a" stroke-width="1.05" stroke-linecap="round" fill="none"/>
<path d="M774.90,75.50L774.90,81.00M772.52,76.88L777.28,79.62M772.52,79.62L777.28,76.88" stroke="#2a2a2a" stroke-width="1.05" stroke-linecap="round" fill="none"/>
<text x="676.77" y="459.60" font-size="21.89" font-style="normal">N</text>
<path d="M697.20,439.60L697.20,445.10M694.82,440.98L699.58,443.73M694.82,443.73L699.58,440.98" stroke="#2a2a2a" stroke-width="1.05" stroke-linecap="round" fill="none"/>
<path d="M705.30,439.60L705.30,445.10M702.92,440.98L707.68,443.73M702.92,443.73L707.68,440.98" stroke="#2a2a2a" stroke-width="1.05" stroke-linecap="round" fill="none"/>
<text x="677.23" y="481.80" font-size="19.87" font-style="normal">D</text>
<path d="M695.70,462.30L695.70,467.70M693.36,463.65L698.04,466.35M693.36,466.35L698.04,463.65" stroke="#2a2a2a" stroke-width="1.05" stroke-linecap="round" fill="none"/>
<path d="M703.50,462.30L703.50,467.70M701.16,463.65L705.84,466.35M701.16,466.35L705.84,463.65" stroke="#2a2a2a" stroke-width="1.05" stroke-linecap="round" fill="none"/>
<text x="677.66" y="504.10" font-size="22.21" font-style="normal">N×D</text>
<path d="M728.00,485.00L728.00,490.80M725.49,486.45L730.51,489.35M725.49,489.35L730.51,486.45" stroke="#2a2a2a" stroke-width="1.05" stroke-linecap="round" fill="none"/>
<path d="M735.90,485.00L735.90,490.80M733.39,486.45L738.41,489.35M733.39,489.35L738.41,486.45" stroke="#2a2a2a" stroke-width="1.05" stroke-linecap="round" fill="none"/>
<text x="723.18" y="866.30" font-size="21.66" font-style="normal">N</text>
<path d="M743.70,846.50L743.70,852.00M741.32,847.88L746.08,850.62M741.32,850.62L746.08,847.88" stroke="#2a2a2a" stroke-width="1.05" stroke-linecap="round" fill="none"/>
<path d="M751.30,846.50L751.30,852.00M748.92,847.88L753.68,850.62M748.92,850.62L753.68,847.88" stroke="#2a2a2a" stroke-width="1.05" stroke-linecap="round" fill="none"/>
<text x="723.98" y="886.90" font-size="21.40" font-style="normal">D</text>
<path d="M744.10,868.30L744.10,873.30M741.93,869.55L746.27,872.05M741.93,872.05L746.27,869.55" stroke="#2a2a2a" stroke-width="1.05" stroke-linecap="round" fill="none"/>
<path d="M752.00,868.30L752.00,873.30M749.83,869.55L754.17,872.05M749.83,872.05L754.17,869.55" stroke="#2a2a2a" stroke-width="1.05" stroke-linecap="round" fill="none"/>
<text x="723.96" y="907.80" font-size="22.13" font-style="normal">N×D</text>
<path d="M774.00,888.70L774.00,894.10M771.66,890.05L776.34,892.75M771.66,892.75L776.34,890.05" stroke="#2a2a2a" stroke-width="1.05" stroke-linecap="round" fill="none"/>
<path d="M781.60,888.70L781.60,894.10M779.26,890.05L783.94,892.75M779.26,892.75L783.94,890.05" stroke="#2a2a2a" stroke-width="1.05" stroke-linecap="round" fill="none"/>
<text x="108.37" y="1238.77" font-size="23.21" font-weight="bold" font-style="normal" >CK</text>
<text x="192.33" y="1237.71" font-size="21.86" font-weight="bold" font-style="normal" >LN</text>
<text x="271.64" y="1237.37" font-size="21.34" font-weight="bold" font-style="normal" >MN</text>
<text x="355.23" y="1237.57" font-size="21.64" font-weight="bold" font-style="normal" >HN</text>
<text x="489.57" y="1238.72" font-size="23.14" font-weight="bold" font-style="normal" >CK</text>
<text x="573.93" y="1237.52" font-size="21.56" font-weight="bold" font-style="normal" >LN</text>
<text x="652.32" y="1237.77" font-size="21.95" font-weight="bold" font-style="normal" >MN</text>
<text x="736.43" y="1237.48" font-size="21.50" font-weight="bold" font-style="normal" >HN</text>
<rect x="90.90" y="0.20" width="36.20" height="18.40" fill="#cfe6ee" stroke="#333" stroke-width="1.4"/>
<rect x="186.70" y="0.20" width="36.30" height="18.40" fill="#7ab4d6" stroke="#333" stroke-width="1.4"/>
<rect x="290.70" y="0.20" width="36.10" height="18.40" fill="#2b7fba" stroke="#333" stroke-width="1.4"/>
<rect x="473.80" y="4.60" width="35.30" height="17.00" fill="#cfe6ee" stroke="#333" stroke-width="1.4"/>
<rect x="562.20" y="4.60" width="35.30" height="17.00" fill="#7ab4d6" stroke="#333" stroke-width="1.4"/>
<rect x="667.70" y="4.60" width="35.60" height="17.00" fill="#2b7fba" stroke="#333" stroke-width="1.4"/>
<text x="131.37" y="15.30" font-size="16.53" font-weight="normal" font-style="normal" >0-20cm</text>
<text x="227.36" y="15.30" font-size="16.74" font-weight="normal" font-style="normal" >20-40cm</text>
<text x="331.87" y="15.30" font-size="16.65" font-weight="normal" font-style="normal" >40-60cm</text>
<text x="513.15" y="17.60" font-size="17.07" font-weight="normal" font-style="normal" >&lt;1mm</text>
<text x="602.65" y="17.60" font-size="16.49" font-weight="normal" font-style="normal" >1-1.5mm</text>
<text x="708.96" y="17.60" font-size="16.38" font-weight="normal" font-style="normal" >1.5-2mm</text>
<text transform="translate(25.50,215.30) rotate(-90)" text-anchor="middle" font-size="23.4" font-weight="bold"><tspan dy="0.00" font-size="23.40" font-weight="bold">SRL (m·g</tspan><tspan dy="-9.70" font-size="21.50" font-weight="bold">-1</tspan><tspan dy="9.70" font-size="23.40" font-weight="bold">)</tspan></text>
<text transform="translate(32.60,618.80) rotate(-90)" text-anchor="middle" font-size="23.4" font-weight="bold"><tspan dy="0.00" font-size="23.40" font-weight="bold">SRA (cm</tspan><tspan dy="-9.70" font-size="15.00" font-weight="normal">2</tspan><tspan dy="9.70" font-size="23.40" font-weight="bold">·g</tspan><tspan dy="-9.70" font-size="21.50" font-weight="bold">-1</tspan><tspan dy="9.70" font-size="23.40" font-weight="bold">)</tspan></text>
<text transform="translate(44.40,1026.50) rotate(-90)" text-anchor="middle" font-size="23.4" font-weight="bold"><tspan dy="0.00" font-size="23.40" font-weight="bold">RTD (g·cm</tspan><tspan dy="-9.70" font-size="21.50" font-weight="bold">-3</tspan><tspan dy="9.70" font-size="23.40" font-weight="bold">)</tspan></text>
</svg>
</body></html>
